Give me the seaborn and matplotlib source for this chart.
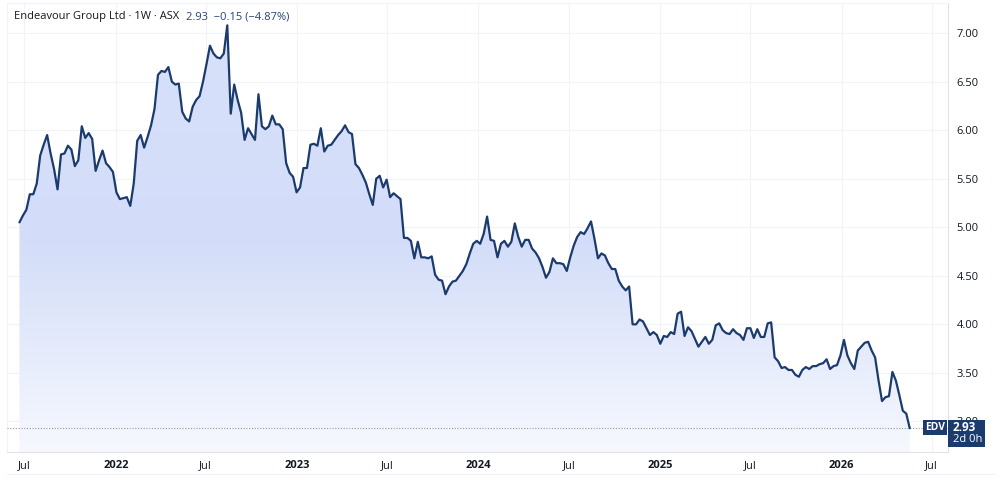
import pandas as pd
import numpy as np
import matplotlib
matplotlib.use('Agg')
import matplotlib.pyplot as plt
import matplotlib.dates as mdates
from matplotlib.colors import LinearSegmentedColormap
from matplotlib.patches import Rectangle
import seaborn as sns

# weekly closes (AUD), Jun 2021 -> May 2026
prices_2021_22 = [5.05, 5.12, 5.18, 5.34, 5.34, 5.45, 5.74, 5.85, 5.95, 5.76,
                  5.60, 5.39, 5.75, 5.76, 5.84, 5.80, 5.63, 5.69, 6.04, 5.92,
                  5.97, 5.91, 5.58, 5.69, 5.79, 5.66, 5.62, 5.57, 5.36, 5.29,
                  5.30, 5.31, 5.22, 5.45, 5.89, 5.95, 5.82, 5.93, 6.05, 6.22,
                  6.57, 6.61, 6.60, 6.65, 6.50, 6.47, 6.48, 6.19, 6.12, 6.09,
                  6.24, 6.31, 6.35, 6.50, 6.68, 6.87, 6.79, 6.75, 6.74, 6.79,
                  7.08, 6.17, 6.47, 6.31]
prices_2022_24 = [6.18, 5.90, 6.02, 5.96, 5.90, 6.37, 6.04, 6.01, 6.04, 6.15,
                  6.06, 6.06, 6.01, 5.66, 5.56, 5.52, 5.36, 5.41, 5.61, 5.61,
                  5.85, 5.86, 5.84, 6.02, 5.78, 5.84, 5.85, 5.90, 5.95, 5.99,
                  6.05, 5.98, 5.96, 5.65, 5.61, 5.54, 5.46, 5.34, 5.23, 5.50,
                  5.53, 5.41, 5.49, 5.31, 5.35, 5.32, 5.29, 4.89, 4.89, 4.86,
                  4.68, 4.85, 4.69, 4.69, 4.68, 4.70, 4.51, 4.46, 4.45, 4.31,
                  4.39, 4.44, 4.45]
prices_2024_25 = [4.50, 4.55, 4.62, 4.73, 4.83, 4.86, 4.83, 4.93, 5.11, 4.87,
                  4.86, 4.69, 4.83, 4.86, 4.80, 4.85, 5.04, 4.90, 4.80, 4.87,
                  4.87, 4.78, 4.74, 4.68, 4.59, 4.48, 4.54, 4.68, 4.63, 4.63,
                  4.62, 4.55, 4.69, 4.81, 4.90, 4.95, 4.93, 4.99, 5.06, 4.88,
                  4.68, 4.73, 4.71, 4.63, 4.57, 4.57, 4.45, 4.39, 4.35, 4.39,
                  4.00, 4.00, 4.05, 4.03, 3.96, 3.89, 3.92, 3.89, 3.80, 3.88,
                  3.87, 3.92, 3.90, 4.11]
prices_2025_26 = [4.13, 3.88, 3.97, 3.93, 3.85, 3.77, 3.82, 3.87, 3.80, 3.84,
                  3.99, 4.01, 3.94, 3.91, 3.90, 3.95, 3.91, 3.89, 3.84, 3.96,
                  3.96, 3.86, 3.95, 3.87, 3.87, 4.01, 4.02, 3.66, 3.62, 3.55,
                  3.56, 3.53, 3.53, 3.48, 3.46, 3.53, 3.56, 3.54, 3.57, 3.57,
                  3.59, 3.60, 3.64, 3.54, 3.57, 3.58, 3.68, 3.84, 3.68, 3.60,
                  3.54, 3.73, 3.77, 3.81, 3.82, 3.73, 3.66, 3.42, 3.21, 3.25,
                  3.26, 3.51, 3.42, 3.27, 3.11, 3.08, 2.93]

tick_dates = ['2021-07-01', '2022-01-01', '2022-07-01', '2023-01-01', '2023-07-01',
              '2024-01-01', '2024-07-01', '2025-01-01', '2025-07-01', '2026-01-01',
              '2026-07-01']
tick_labels = ['Jul', '2022', 'Jul', '2023', 'Jul', '2024', 'Jul', '2025', 'Jul', '2026', 'Jul']
y_ticks = [3.0, 3.5, 4.0, 4.5, 5.0, 5.5, 6.0, 6.5, 7.0]
last_price = 2.93

prices = prices_2021_22 + prices_2022_24 + prices_2024_25 + prices_2025_26
df = pd.DataFrame({
    'date': pd.date_range('2021-06-21', '2026-05-18', periods=len(prices)),
    'close': prices,
})

sns.set_theme(style='white')
plt.rcParams['font.family'] = ['Open Sans', 'DejaVu Sans']

navy = '#1c3b6d'
txt = '#131722'
grid_c = '#f0f3fa'

fig = plt.figure(figsize=(10, 4.8), dpi=100)
ax = fig.add_axes([0.007, 1 - 452 / 480, 0.941, 449 / 480])

ylo, yhi = 2.685, 7.31
xlo, xhi = pd.Timestamp('2021-05-27'), pd.Timestamp('2026-08-03')

sns.lineplot(data=df, x='date', y='close', color=navy, linewidth=1.6, ax=ax, zorder=4)

# gradient area under the line
cmap = LinearSegmentedColormap.from_list('area', ['#f6f8fe', '#d3ddf9', '#d8e1fa'])
grad = np.linspace(0, 1, 256).reshape(-1, 1)
x0, x1 = mdates.date2num(df['date'].iloc[0]), mdates.date2num(df['date'].iloc[-1])
img = ax.imshow(grad, extent=[x0, x1, ylo, max(prices)], origin='lower',
                aspect='auto', cmap=cmap, zorder=2)
poly = ax.fill_between(df['date'], df['close'], ylo, facecolor='none', edgecolor='none')
img.set_clip_path(poly.get_paths()[0], transform=ax.transData)

ax.axhline(last_price, color='#9598a1', linestyle=(0, (1, 1.5)), linewidth=0.8, zorder=3)

ax.set_xlim(xlo, xhi)
ax.set_ylim(ylo, yhi)
ax.set_xticks(pd.to_datetime(tick_dates))
ax.set_xticklabels(tick_labels)
for t in ax.get_xticklabels():
    if t.get_text() != 'Jul':
        t.set_fontweight('bold')
ax.set_yticks(y_ticks)
ax.set_yticklabels([f'{v:.2f}' for v in y_ticks])
ax.yaxis.tick_right()
ax.tick_params(axis='x', length=0, pad=6, labelsize=8, labelcolor=txt)
ax.tick_params(axis='y', length=0, pad=6, labelsize=8, labelcolor=txt)
ax.grid(True, color=grid_c, linewidth=0.8)
ax.set_axisbelow(True)
ax.set_xlabel('')
ax.set_ylabel('')
for side in ['left', 'top']:
    ax.spines[side].set_color('#f0f3fa')
    ax.spines[side].set_linewidth(0.8)
for side in ['right', 'bottom']:
    ax.spines[side].set_color('#e0e3eb')
    ax.spines[side].set_linewidth(0.8)

# bottom frame line
fig.add_artist(plt.Line2D([0.007, 0.995], [1 - 474 / 480] * 2, color='#eef0f5', linewidth=0.8))

# title line, price part placed right after the name
title = fig.text(0.014, 1 - 17 / 480, 'Endeavour Group Ltd · 1W · ASX', fontsize=8,
                 color=txt, va='center')
fig.canvas.draw()
bb = title.get_window_extent()
fig.text((bb.x1 + 7) / 1000, 1 - 17 / 480, '2.93  −0.15 (−4.87%)', fontsize=8,
         color='#22447a', va='center')

# last price labels on the right
fig.add_artist(Rectangle((923 / 1000, 1 - 435 / 480), 24 / 1000, 15 / 480,
                         facecolor=navy, edgecolor='none', zorder=10))
fig.text(935 / 1000, 1 - 427.5 / 480, 'EDV', color='white', fontsize=7.5,
         fontweight='bold', ha='center', va='center', zorder=11)
fig.add_artist(Rectangle((948 / 1000, 1 - 447 / 480), 37 / 1000, 27 / 480,
                         facecolor=navy, edgecolor='none', zorder=10))
fig.text(953 / 1000, 1 - 427.5 / 480, f'{last_price:.2f}', color='white', fontsize=8.5,
         fontweight='bold', ha='left', va='center', zorder=11)
fig.text(953 / 1000, 1 - 440 / 480, '2d 0h', color='white', fontsize=8,
         ha='left', va='center', zorder=11)

fig.savefig('out.png', dpi=100)
